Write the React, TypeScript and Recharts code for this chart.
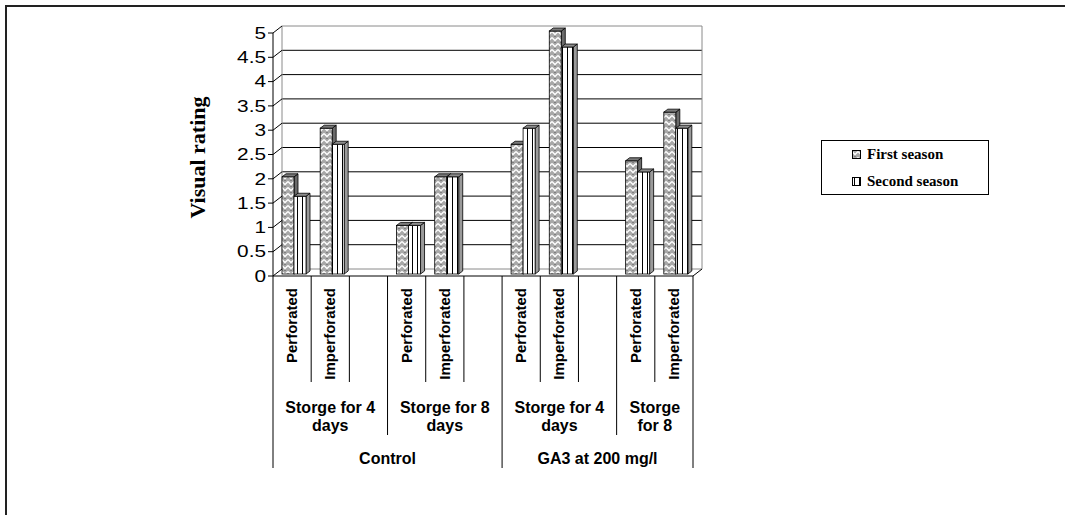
import React from 'react';
import { BarChart, Bar, XAxis, YAxis, CartesianGrid, Legend } from 'recharts';

// ---------- data ----------
const categories = ['Perforated', 'Imperforated', '', 'Perforated', 'Imperforated', '', 'Perforated', 'Imperforated', '', 'Perforated', 'Imperforated'];
const firstSeason: (number | null)[] = [2.0, 3.0, null, 1.0, 2.0, null, 2.67, 5.0, null, 2.33, 3.33];
const secondSeason: (number | null)[] = [1.6, 2.67, null, 1.0, 2.0, null, 3.0, 4.67, null, 2.1, 3.0];
const storageGroups = [
  { lines: ['Storge for 4', 'days'], start: 0, span: 3 },
  { lines: ['Storge for 8', 'days'], start: 3, span: 3 },
  { lines: ['Storge for 4', 'days'], start: 6, span: 3 },
  { lines: ['Storge', 'for 8'], start: 9, span: 2 },
];
const treatmentGroups = [
  { label: 'Control', start: 0, span: 6 },
  { label: 'GA3 at 200 mg/l', start: 6, span: 5 },
];
const yTicks = [0, 0.5, 1, 1.5, 2, 2.5, 3, 3.5, 4, 4.5, 5];
const seriesNames = ['First season', 'Second season'];
const yTitle = 'Visual rating';

const data = categories.map((c, i) => ({
  key: 'c' + i,
  label: c,
  first: firstSeason[i],
  second: secondSeason[i],
}));

// ---------- styling constants ----------
const WX = 9; // wall depth offset x
const WY = 7; // wall depth offset y
const BAR_DX = 4;
const BAR_DY = 3;
const BAR_SHIFT_X = 2;
const BAR_SHIFT_Y = -2;
const Y_TICK_SIZE = 5;
const Y_TICK_MARGIN = 2;
const SANS = '"Liberation Sans", Arial, sans-serif';
const SERIF = '"Liberation Serif", "Times New Roman", serif';

const Bar3D = (props: any) => {
  const { x, y, width, height, patternId, sideFill, topFill } = props;
  if (height == null || !(height > 0) || x == null) return null;
  const x0 = x + BAR_SHIFT_X;
  const y0 = y + BAR_SHIFT_Y;
  const w = width;
  const h = height;
  return (
    <g>
      <polygon
        points={`${x0 + w},${y0} ${x0 + w + BAR_DX},${y0 - BAR_DY} ${x0 + w + BAR_DX},${y0 + h - BAR_DY} ${x0 + w},${y0 + h}`}
        fill={sideFill}
        stroke="#000"
        strokeWidth={0.8}
      />
      <rect x={x0} y={y0} width={w} height={h} fill={`url(#${patternId})`} stroke="#000" strokeWidth={0.8} />
      <polygon
        points={`${x0},${y0} ${x0 + BAR_DX},${y0 - BAR_DY} ${x0 + w + BAR_DX},${y0 - BAR_DY} ${x0 + w},${y0}`}
        fill={topFill}
        stroke="#000"
        strokeWidth={0.8}
      />
    </g>
  );
};

const gridH = (p: any) => {
  const { x1, x2, y1, index } = p;
  const top = typeof p.y === 'number' ? p.y : null;
  const bottom = typeof p.y === 'number' && typeof p.height === 'number' ? p.y + p.height : null;
  const isTop = top != null ? Math.abs(y1 - top) < 0.6 : index === yTicks.length - 1;
  const isBottom = bottom != null ? Math.abs(y1 - bottom) < 0.6 : index === 0;
  return (
    <g key={p.key ?? 'h' + index}>
      <line
        x1={x1 + WX}
        y1={y1 - WY}
        x2={x2 + WX}
        y2={y1 - WY}
        stroke={isTop || isBottom ? '#8a8a8a' : '#000'}
        strokeWidth={1}
      />
      {isBottom && <line x1={x2} y1={y1} x2={x2 + WX} y2={y1 - WY} stroke="#000" strokeWidth={1} />}
    </g>
  );
};

const gridV = (p: any) => {
  const { x1, y1, x2, y2, index } = p;
  return (
    <line
      key={p.key ?? 'v' + index}
      x1={x1 + WX}
      y1={y1 - WY}
      x2={x2 + WX}
      y2={y2 - WY}
      stroke="#8a8a8a"
      strokeWidth={1}
    />
  );
};

const YTick = (props: any) => {
  const { x, y, payload } = props;
  const ax = x + Y_TICK_SIZE + Y_TICK_MARGIN;
  return (
    <g>
      <line x1={ax} y1={y} x2={ax + WX} y2={y - WY} stroke="#000" strokeWidth={1} />
      <g transform={`translate(${x},${y})`}>
        <text
          transform="scale(1.3,1)"
          x={0}
          y={0}
          dy="0.36em"
          textAnchor="end"
          fontSize={16}
          fontFamily={SANS}
          fill="#000"
        >
          {String(payload.value)}
        </text>
      </g>
    </g>
  );
};

const sepLen = [0, 106, 159, 192];
const levelOf = (i: number) =>
  treatmentGroups.some((g) => g.start === i) ? 3 : storageGroups.some((g) => g.start === i) ? 2 : 1;

const XTick = (props: any) => {
  const { x, y, payload, index } = props;
  const half = payload && typeof payload.offset === 'number' && payload.offset > 0 ? payload.offset : 19.1;
  const band = half * 2;
  const left = x - half;
  const label = categories[index] ?? '';
  const sg = storageGroups.find((g) => g.start === index);
  const tg = treatmentGroups.find((g) => g.start === index);
  return (
    <g>
      <line x1={left} y1={y} x2={left} y2={y + sepLen[levelOf(index)]} stroke="#000" strokeWidth={1} />
      {index === categories.length - 1 && (
        <line x1={x + half} y1={y} x2={x + half} y2={y + sepLen[3]} stroke="#000" strokeWidth={1} />
      )}
      {label && (
        <text
          transform={`translate(${x + 5},${y + 12}) rotate(-90)`}
          textAnchor="end"
          fontSize={15}
          fontWeight="bold"
          fontFamily={SANS}
          fill="#000"
        >
          {label}
        </text>
      )}
      {sg &&
        sg.lines.map((ln, k) => (
          <text
            key={k}
            x={left + (sg.span * band) / 2}
            y={y + 137 + k * 18}
            textAnchor="middle"
            fontSize={16}
            fontWeight="bold"
            fontFamily={SANS}
            fill="#000"
          >
            {ln}
          </text>
        ))}
      {tg && (
        <text
          x={left + (tg.span * band) / 2}
          y={y + 188}
          textAnchor="middle"
          fontSize={16}
          fontWeight="bold"
          fontFamily={SANS}
          fill="#000"
        >
          {tg.label}
        </text>
      )}
    </g>
  );
};

const YLabel = (props: any) => {
  const vb = props.viewBox || { x: 160, y: 33, width: 113, height: 243 };
  const cx = vb.x + 37;
  const cy = vb.y + vb.height / 2 + 3;
  return (
    <text
      transform={`translate(${cx},${cy}) rotate(-90)`}
      textAnchor="middle"
      dy="0.35em"
      fontSize={22}
      fontWeight="bold"
      fontFamily={SERIF}
      fill="#000"
    >
      {yTitle}
    </text>
  );
};

const patternIds = ['patFirst', 'patSecond'];

const renderLegend = () => (
  <div
    style={{
      border: '1px solid #000',
      background: '#fff',
      width: 168,
      height: 55,
      boxSizing: 'border-box',
      paddingLeft: 30,
      fontFamily: SERIF,
      fontWeight: 'bold',
      fontSize: 15,
      color: '#000',
    }}
  >
    {seriesNames.map((name, i) => (
      <div key={name} style={{ display: 'flex', alignItems: 'center', height: 27 }}>
        <svg width={10} height={10} style={{ display: 'block' }}>
          <rect x={0.5} y={0.5} width={8} height={8} fill={`url(#${patternIds[i]})`} stroke="#000" strokeWidth={1} />
        </svg>
        <span style={{ marginLeft: 5, whiteSpace: 'nowrap' }}>{name}</span>
      </div>
    ))}
  </div>
);

export default function App() {
  return (
    <div style={{ position: 'absolute', left: 0, top: 0, width: 1065, height: 515, background: '#fff' }}>
      <svg width={0} height={0} style={{ position: 'absolute' }}>
        <defs>
          <pattern id="patFirst" patternUnits="userSpaceOnUse" width={6} height={6}>
            <rect width={6} height={6} fill="#a8a8a8" />
            <path d="M0,1.5 L3,4.5 L6,1.5" stroke="#fff" strokeWidth={1.3} fill="none" />
            <rect x={2.5} y={0} width={1} height={1} fill="#555" />
          </pattern>
          <pattern id="patSecond" patternUnits="userSpaceOnUse" width={5} height={6}>
            <rect width={5} height={6} fill="#fff" />
            <rect x={2} y={0} width={1} height={6} fill="#000" />
          </pattern>
        </defs>
      </svg>
      <div
        style={{
          position: 'absolute',
          left: 5,
          top: 5,
          width: 1060,
          height: 510,
          borderTop: '2px solid #222',
          borderLeft: '2px solid #222',
          boxSizing: 'border-box',
        }}
      />
      <div style={{ position: 'absolute', left: 0, top: 0 }}>
        <BarChart
          width={1065}
          height={515}
          data={data}
          margin={{ top: 33, right: 372, bottom: 39, left: 160 }}
          barSize={12}
          barGap={0}
        >
          <CartesianGrid
            horizontal={gridH}
            vertical={gridV}
            verticalCoordinatesGenerator={(args: any) => {
              const o = args.offset;
              return [o.left, o.left + o.width];
            }}
          />
          <XAxis
            dataKey="key"
            interval={0}
            height={200}
            tickSize={0}
            tickMargin={0}
            tickLine={false}
            axisLine={{ stroke: '#000', strokeWidth: 1 }}
            tick={<XTick />}
          />
          <YAxis
            type="number"
            domain={[0, 5]}
            ticks={yTicks}
            interval={0}
            width={113}
            tickSize={Y_TICK_SIZE}
            tickMargin={Y_TICK_MARGIN}
            tickLine={{ stroke: '#000' }}
            axisLine={{ stroke: '#000', strokeWidth: 1 }}
            tick={<YTick />}
            label={<YLabel />}
          />
          <Legend
            layout="horizontal"
            verticalAlign="middle"
            align="center"
            wrapperStyle={{ left: 821, top: 140, width: 168, height: 55 }}
            content={renderLegend}
          />
          <Bar
            dataKey="first"
            name={seriesNames[0]}
            isAnimationActive={false}
            shape={(p: any) => <Bar3D {...p} patternId="patFirst" sideFill="#6a6a6a" topFill="#7a7a7a" />}
          />
          <Bar
            dataKey="second"
            name={seriesNames[1]}
            isAnimationActive={false}
            shape={(p: any) => <Bar3D {...p} patternId="patSecond" sideFill="#9a9a9a" topFill="#8c8c8c" />}
          />
        </BarChart>
      </div>
    </div>
  );
}
